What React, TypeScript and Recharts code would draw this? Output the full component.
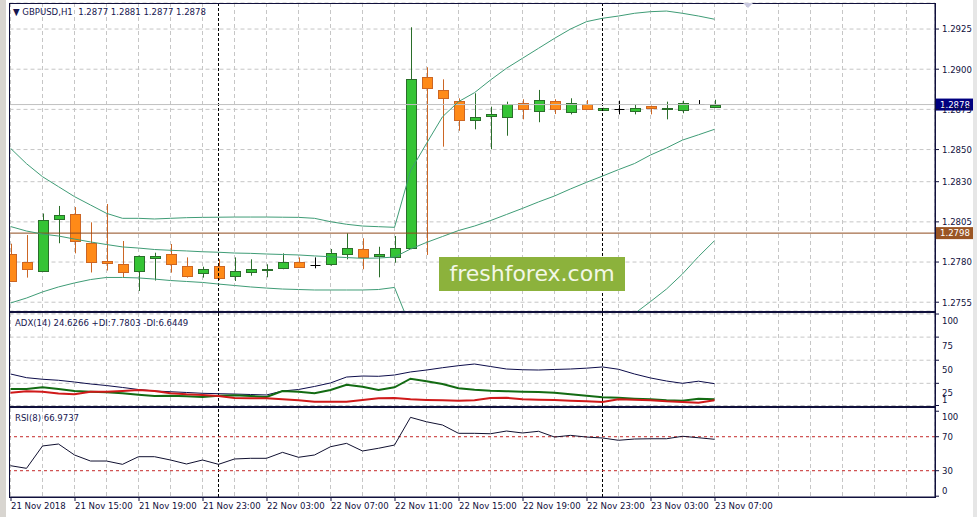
import React from "react";
import {
  ComposedChart,
  Bar,
  Line,
  XAxis,
  YAxis,
  CartesianGrid,
  ReferenceLine,
} from "recharts";

// GBPUSD H1, 21 Nov 11:00 .. 23 Nov 07:00 (45 bars)
const opens = [
  1.27848, 1.27798, 1.27746, 1.28066, 1.28099, 1.27917, 1.27806, 1.27786, 1.27746, 1.27825,
  1.2785, 1.27777, 1.2773, 1.27777, 1.27715, 1.27734, 1.2775, 1.27767, 1.27798, 1.27782,
  1.27786, 1.27848, 1.27879, 1.27838, 1.27833, 1.27888, 1.2895, 1.28871, 1.28804, 1.28682,
  1.28704, 1.28704, 1.28788, 1.28738, 1.28802, 1.28736, 1.28783, 1.28748, 1.2875, 1.28736,
  1.28771, 1.28748, 1.2875, 1.28783, 1.2877,
];
const highs = [
  1.27914, 1.27968, 1.28102, 1.28149, 1.28142, 1.28047, 1.28161, 1.27931, 1.27841, 1.27858,
  1.27912, 1.27829, 1.27771, 1.27817, 1.27829, 1.27817, 1.27786, 1.27854, 1.27829, 1.27829,
  1.27881, 1.27979, 1.27948, 1.27895, 1.27962, 1.29261, 1.29012, 1.28937, 1.28819, 1.2885,
  1.28767, 1.28798, 1.28813, 1.28871, 1.28813, 1.28819, 1.28808, 1.2876, 1.28804, 1.28783,
  1.28774, 1.28798, 1.28804, 1.28808, 1.2881,
];
const lows = [
  1.27678, 1.27703, 1.27738, 1.27917, 1.27854, 1.27735, 1.27747, 1.27704, 1.2762, 1.27685,
  1.27734, 1.27703, 1.27703, 1.27688, 1.27682, 1.27715, 1.27705, 1.27755, 1.27765, 1.27761,
  1.27777, 1.27817, 1.27755, 1.27705, 1.27796, 1.2788, 1.27844, 1.28518, 1.28617, 1.28626,
  1.28502, 1.28586, 1.28688, 1.2867, 1.28721, 1.28719, 1.2875, 1.28746, 1.28719, 1.28719,
  1.28719, 1.28688, 1.28726, 1.28781, 1.2877,
];
const closes = [
  1.27683, 1.27755, 1.28062, 1.28091, 1.27928, 1.27798, 1.27796, 1.27736, 1.27838, 1.27838,
  1.27786, 1.27715, 1.27755, 1.27705, 1.27746, 1.27755, 1.27759, 1.27802, 1.27767, 1.27782,
  1.27854, 1.27886, 1.27827, 1.2785, 1.27886, 1.28937, 1.28881, 1.28819, 1.28688, 1.28701,
  1.28719, 1.28782, 1.2875, 1.28808, 1.2875, 1.28792, 1.28754, 1.28759, 1.2875, 1.28757,
  1.28757, 1.28757, 1.28792, 1.28783, 1.2878,
];

// Bollinger bands
const bbUpper = [
  1.28508, 1.28412, 1.28331, 1.28269, 1.28207, 1.28155, 1.28103, 1.28072, 1.28072, 1.28068,
  1.28072, 1.28076, 1.28078, 1.28079, 1.2808, 1.2808, 1.2808, 1.28079, 1.28078, 1.28072,
  1.28051, 1.28035, 1.28024, 1.2802, 1.28016, 1.28367, 1.28538, 1.28704, 1.28798, 1.28854,
  1.28933, 1.29006, 1.29068, 1.2913, 1.29192, 1.2925, 1.29296, 1.29317, 1.29331, 1.29348,
  1.29358, 1.29362, 1.29348, 1.29331, 1.29311,
];
const bbMiddle = [
  1.28021, 1.27993, 1.27974, 1.27962, 1.27943, 1.27925, 1.27909, 1.27894, 1.27887, 1.27878,
  1.27873, 1.27869, 1.27864, 1.27861, 1.27856, 1.27854, 1.2785, 1.27847, 1.27844, 1.27838,
  1.27833, 1.27828, 1.27823, 1.27825, 1.27831, 1.27881, 1.27922, 1.27959, 1.27996, 1.28024,
  1.28058, 1.28096, 1.28134, 1.28174, 1.28211, 1.28255, 1.28296, 1.28335, 1.28375, 1.28413,
  1.28466, 1.2851, 1.28559, 1.28592, 1.28626,
];
const bbLower = [
  1.27545, 1.27576, 1.27614, 1.27645, 1.2767, 1.27691, 1.27704, 1.27704, 1.27701, 1.27694,
  1.27685, 1.27679, 1.27673, 1.27663, 1.27654, 1.27645, 1.27638, 1.27632, 1.27629, 1.27626,
  1.27626, 1.27626, 1.27626, 1.27629, 1.27642, 1.27396, 1.27306, 1.27213, 1.27195, 1.27195,
  1.27184, 1.27186, 1.27201, 1.27217, 1.2723, 1.27259, 1.27296, 1.27354, 1.27418, 1.27479,
  1.27554, 1.27632, 1.27726, 1.27834, 1.27933,
];

// ADX(14)
const adx = [
  35.1, 31.1, 29.4, 28.3, 26.4, 24.3, 22.6, 20.5, 18.3, 16.7,
  15.9, 15.1, 14.2, 13.8, 13.4, 12.9, 12.4, 16.7, 18.3, 21.6,
  25.4, 31.8, 32.9, 32.6, 34.0, 37.3, 39.4, 41.9, 44.1, 45.9,
  43.2, 40.5, 39.7, 39.4, 40.0, 40.5, 41.4, 42.7, 40.2, 35.1,
  30.8, 27.5, 25.0, 27.3, 24.63,
];
const plusDi = [
  18.9, 18.9, 20.7, 18.9, 16.7, 15.9, 15.3, 14.2, 12.7, 11.3,
  11.6, 11.0, 10.2, 11.6, 12.0, 11.3, 10.2, 16.7, 15.9, 14.2,
  17.8, 23.5, 21.3, 17.8, 20.7, 30.0, 27.2, 24.3, 19.6, 18.1,
  17.0, 16.4, 15.9, 15.6, 14.9, 13.1, 11.6, 9.9, 9.4, 8.4,
  7.7, 6.6, 6.2, 8.4, 7.78,
];
const minusDi = [
  14.9, 16.4, 15.9, 14.0, 13.1, 15.9, 15.9, 16.7, 17.8, 16.7,
  14.2, 13.1, 12.4, 11.3, 9.1, 8.8, 8.8, 7.7, 6.6, 5.1,
  5.1, 5.1, 7.0, 8.8, 9.1, 7.7, 7.0, 6.6, 6.2, 6.6,
  9.1, 9.4, 7.7, 7.3, 7.0, 6.2, 5.5, 4.8, 7.7, 7.3,
  6.6, 5.5, 4.8, 4.0, 6.64,
];

// RSI(8)
const rsi = [
  35.9, 32.8, 59.1, 61.4, 48.5, 41.4, 41.4, 37.5, 46.5, 46.5,
  42.6, 37.9, 42.6, 37.5, 43.8, 44.6, 44.6, 51.6, 45.8, 48.5,
  58.2, 62.2, 53.2, 56.4, 60.2, 92.8, 87.6, 83.8, 74.0, 74.0,
  73.5, 76.7, 74.4, 76.4, 69.6, 71.6, 69.6, 68.5, 65.8, 67.3,
  67.6, 67.6, 70.5, 68.8, 66.97,
];

const timeTicks = [0, 4, 8, 12, 16, 20, 24, 28, 32, 36, 40, 44];
const timeLabels = [
  "21 Nov 2018", "21 Nov 15:00", "21 Nov 19:00", "21 Nov 23:00",
  "22 Nov 03:00", "22 Nov 07:00", "22 Nov 11:00", "22 Nov 15:00",
  "22 Nov 19:00", "22 Nov 23:00", "23 Nov 03:00", "23 Nov 07:00",
];
const gridTicks = [
  0, 2, 4, 6, 8, 10, 12, 14, 16, 18, 20, 22, 24, 26, 28, 30, 32, 34, 36, 38,
  40, 42, 44, 46, 48, 50, 52, 54, 56,
];
const daySeparators = [13, 37];
const priceTicks = [1.2755, 1.278, 1.2805, 1.283, 1.285, 1.2875, 1.29, 1.2925];
const adxTicks = [1, 25, 50, 75, 100];
const rsiTicks = [0, 30, 70, 100];
const rsiLevels = [30, 70];
const lastPrice = 1.2878;
const levelPrice = 1.2798;

const SLOTS = 58; // visible bar slots incl. empty right side
const rows = Array.from({ length: SLOTS }, (_, i) => ({
  i,
  o: opens[i],
  h: highs[i],
  l: lows[i],
  c: closes[i],
  up: bbUpper[i],
  mid: bbMiddle[i],
  low: bbLower[i],
  adx: adx[i],
  pdi: plusDi[i],
  mdi: minusDi[i],
  rsi: rsi[i],
}));

const NAVY = "#10103c";
const FONT = "'DejaVu Sans Condensed', 'Liberation Sans', Arial, sans-serif";
const GRID = "#c6c6c6";
const BAND = "#3f9c76";
const xPad = { left: -7, right: 4.5 };
const margin = { top: 0, right: 0, bottom: 0, left: 9.5 };

const rangeKey = (d: any) => (d.h === undefined ? undefined : [d.l, d.h]);

function Candle(props: any) {
  const { x, y, width, height, payload } = props;
  if (!payload || payload.h === undefined || !height) return null;
  const { o, h, l, c } = payload;
  const top = Math.min(y, y + height);
  const k = Math.abs(height) / (h - l);
  const py = (v: number) => top + (h - v) * k;
  const cx = Math.round(x + width / 2) + 0.5;
  const left = Math.round(x) + 0.5;
  const w = Math.round(width) - 1;

  if (o === c) {
    return (
      <g stroke="#000" strokeWidth={1}>
        <line x1={cx} x2={cx} y1={py(h)} y2={py(l)} />
        <line x1={left} x2={left + w} y1={Math.round(py(o)) + 0.5} y2={Math.round(py(o)) + 0.5} />
      </g>
    );
  }
  const bull = c > o;
  const wick = bull ? "#2a6e2a" : "#cc6624";
  const fill = bull ? "#35c435" : "#ff8a18";
  const bTop = py(Math.max(o, c));
  const bBot = py(Math.min(o, c));
  return (
    <g>
      <line x1={cx} x2={cx} y1={py(h)} y2={py(l)} stroke={wick} strokeWidth={1} />
      <rect
        x={left}
        y={Math.round(bTop) + 0.5}
        width={w}
        height={Math.max(1, Math.round(bBot - bTop))}
        fill={fill}
        stroke={wick}
        strokeWidth={1}
      />
    </g>
  );
}

function PriceTag(props: any) {
  const { viewBox, text, fill } = props;
  if (!viewBox) return null;
  const x = viewBox.x + viewBox.width + 1;
  const y = viewBox.y;
  return (
    <g>
      <rect x={x} y={y - 6} width={37} height={12} fill={fill} />
      <text x={x + 4} y={y} dy="0.35em" fill="#fff" fontSize={9.5} fontFamily={FONT}>
        {text}
      </text>
    </g>
  );
}

function AxisText(props: any) {
  const { x, y, text, dy } = props;
  return (
    <text x={x} y={y + dy} dy="0.35em" textAnchor="start" fill={NAVY} fontSize={9.5} fontFamily={FONT}>
      {text}
    </text>
  );
}

const PriceTick = (p: any) => <AxisText x={p.x} y={p.y} dy={0} text={Number(p.payload.value).toFixed(4)} />;

const AdxTick = (p: any) => {
  const v = p.payload.value;
  const dy = v === 1 ? -6 : v === 100 ? 7 : 9;
  return <AxisText x={p.x} y={p.y} dy={dy} text={String(v)} />;
};

const RsiTick = (p: any) => {
  const v = p.payload.value;
  const dy = v === 0 ? -6 : v === 100 ? 5 : 0;
  return <AxisText x={p.x} y={p.y} dy={dy} text={String(v)} />;
};

// the axis carries a tick every 2 bars (for the grid); only every 4th bar gets a label
const TimeTick = (p: any) => {
  const idx = timeTicks.indexOf(p.payload.value);
  if (idx < 0) return null;
  return (
    <g>
      <line x1={p.x + 0.5} x2={p.x + 0.5} y1={p.y - 5} y2={p.y - 1} stroke={NAVY} />
      <text x={p.x + 0.5} y={p.y} dy="0.71em" textAnchor="start" fill={NAVY} fontSize={9.5} fontFamily={FONT}>
        {timeLabels[idx]}
      </text>
    </g>
  );
};

const separators = () =>
  daySeparators.map((d) => <ReferenceLine key={d} x={d} stroke="#000" strokeDasharray="3 2" />);

function MainPanel() {
  return (
    <ComposedChart width={977} height={311} data={rows} margin={{ ...margin, top: 3 }}>
      <CartesianGrid stroke={GRID} strokeDasharray="4 3" />
      <XAxis dataKey="i" type="category" scale="band" hide padding={xPad} ticks={gridTicks} interval={0} />
      <YAxis
        orientation="right"
        width={42}
        domain={[1.274953, 1.29412]}
        allowDataOverflow
        ticks={priceTicks}
        interval={0}
        tickSize={4}
        tickMargin={3}
        tick={<PriceTick />}
        axisLine={{ stroke: NAVY }}
        tickLine={{ stroke: NAVY }}
      />
      {separators()}
      <ReferenceLine y={lastPrice} stroke="#c0c0c0" label={<PriceTag text="1.2878" fill="#000080" />} />
      <ReferenceLine y={levelPrice} stroke="#8e4a1c" label={<PriceTag text="1.2798" fill="#9a5524" />} />
      <Line dataKey="up" stroke={BAND} strokeWidth={1} dot={false} isAnimationActive={false} />
      <Line dataKey="mid" stroke={BAND} strokeWidth={1} dot={false} isAnimationActive={false} />
      <Line dataKey="low" stroke={BAND} strokeWidth={1} dot={false} isAnimationActive={false} />
      <Bar dataKey={rangeKey} barSize={11} shape={<Candle />} isAnimationActive={false} />
    </ComposedChart>
  );
}

function AdxPanel() {
  return (
    <ComposedChart width={977} height={93} data={rows} margin={margin}>
      <CartesianGrid stroke={GRID} strokeDasharray="4 3" />
      <XAxis dataKey="i" type="category" scale="band" hide padding={xPad} ticks={gridTicks} interval={0} />
      <YAxis
        orientation="right"
        width={42}
        domain={[0.46, 101.1]}
        allowDataOverflow
        ticks={adxTicks}
        interval={0}
        tickSize={4}
        tickMargin={3}
        tick={<AdxTick />}
        axisLine={{ stroke: NAVY }}
        tickLine={{ stroke: NAVY }}
      />
      {separators()}
      <Line dataKey="adx" stroke="#0c0c4a" strokeWidth={1} dot={false} isAnimationActive={false} />
      <Line dataKey="pdi" stroke="#136b13" strokeWidth={2} dot={false} isAnimationActive={false} />
      <Line dataKey="mdi" stroke="#d01a1a" strokeWidth={2} dot={false} isAnimationActive={false} />
    </ComposedChart>
  );
}

function RsiPanel() {
  return (
    <ComposedChart width={977} height={109} data={rows} margin={margin}>
      <CartesianGrid stroke={GRID} strokeDasharray="4 3" horizontal={false} />
      <XAxis
        dataKey="i"
        type="category"
        scale="band"
        padding={xPad}
        ticks={gridTicks}
        interval={0}
        height={20}
        tickSize={3}
        tickMargin={2}
        tick={<TimeTick />}
        tickLine={false}
        axisLine={{ stroke: NAVY }}
      />
      <YAxis
        orientation="right"
        width={42}
        domain={[-0.94, 103.8]}
        allowDataOverflow
        ticks={rsiTicks}
        interval={0}
        tickSize={4}
        tickMargin={3}
        tick={<RsiTick />}
        axisLine={{ stroke: NAVY }}
        tickLine={{ stroke: NAVY }}
      />
      {separators()}
      {rsiLevels.map((v) => (
        <ReferenceLine key={v} y={v} stroke="#c42828" strokeDasharray="3 3" />
      ))}
      <Line dataKey="rsi" stroke="#101030" strokeWidth={1} dot={false} isAnimationActive={false} />
    </ComposedChart>
  );
}

const frame = (top: number, height: number) => ({
  position: "absolute" as const,
  left: 9,
  top,
  width: 927,
  height,
  border: `1px solid ${NAVY}`,
  boxSizing: "border-box" as const,
  pointerEvents: "none" as const,
});

const caption = (top: number) => ({
  position: "absolute" as const,
  left: 15,
  top,
  fontSize: 9.5,
  lineHeight: "12px",
  color: "#161650",
  fontFamily: FONT,
  whiteSpace: "pre" as const,
});

export default function App() {
  return (
    <div
      style={{
        position: "absolute",
        left: 0,
        top: 0,
        width: 977,
        height: 517,
        background: "#fff",
        overflow: "hidden",
        fontFamily: FONT,
      }}
    >
      <div style={{ position: "absolute", left: 0, top: 0 }}>
        <MainPanel />
      </div>
      <div style={{ position: "absolute", left: 0, top: 313 }}>
        <AdxPanel />
      </div>
      <div style={{ position: "absolute", left: 0, top: 408 }}>
        <RsiPanel />
      </div>

      {/* window edges, also hide the half candle left of the frame */}
      <div style={{ position: "absolute", left: 0, top: 0, width: 9, height: 517, background: "#fff" }} />
      <div style={{ position: "absolute", left: 0, top: 0, width: 6, height: 517, background: "#d8d5d0" }} />
      <div style={{ position: "absolute", left: 973, top: 0, width: 4, height: 517, background: "#e6e6e6" }} />

      <div style={frame(3, 309)} />
      <div style={frame(312, 95)} />
      <div style={frame(407, 91)} />

      {/* shift marker */}
      <div
        style={{
          position: "absolute",
          left: 743,
          top: 3,
          width: 0,
          height: 0,
          borderLeft: "5px solid transparent",
          borderRight: "5px solid transparent",
          borderTop: "5px solid #c9c9e0",
        }}
      />

      <div style={{ ...caption(6), left: 13 }}>{"\u25BC GBPUSD,H1  1.2877 1.2881 1.2877 1.2878"}</div>
      <div style={caption(317)}>ADX(14) 24.6266 +DI:7.7803 -DI:6.6449</div>
      <div style={caption(411.5)}>RSI(8) 66.9737</div>

      <div
        style={{
          position: "absolute",
          left: 439,
          top: 257,
          width: 186,
          height: 34,
          background: "#8cb23c",
          color: "#f3f7e6",
          fontFamily: "'DejaVu Sans', sans-serif",
          fontSize: 22,
          lineHeight: "34px",
          textAlign: "center",
        }}
      >
        freshforex.com
      </div>
    </div>
  );
}
